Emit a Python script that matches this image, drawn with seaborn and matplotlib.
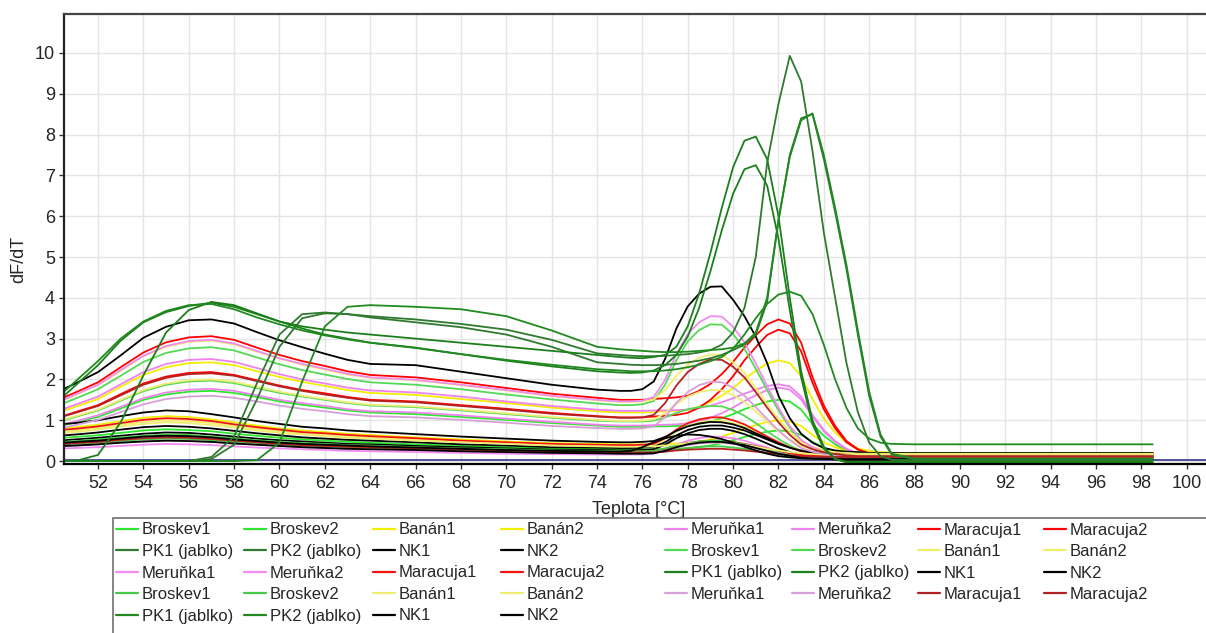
import matplotlib
matplotlib.use("Agg")
import matplotlib.pyplot as plt
from matplotlib.lines import Line2D
from matplotlib.patches import Rectangle
import pandas as pd
import seaborn as sns

# Temperature grid (°C) shared by all melt-curve derivative traces
temps = [50.5, 51, 52, 53, 54, 55, 56, 57, 58, 59, 60, 61, 62, 63, 64, 66, 68, 70, 72, 74,
         75, 75.5, 76, 76.5, 77, 77.5, 78, 78.5, 79, 79.5, 80, 80.5, 81, 81.5, 82, 82.5,
         83, 83.5, 84, 84.5, 85, 85.5, 86, 86.5, 87, 88, 98.5]

samples = ["Broskev1", "Broskev2", "Banán1", "Banán2", "Meruňka1", "Meruňka2",
           "Maracuja1", "Maracuja2", "PK1 (jablko)", "PK2 (jablko)", "NK1", "NK2"]

# ---- run 1 -------------------------------------------------------------
r1_broskev1 = [0.88, 0.95, 1.08, 1.29, 1.50, 1.63, 1.70, 1.72, 1.67, 1.57, 1.46, 1.38, 1.31, 1.24, 1.19, 1.15, 1.08, 1.01, 0.93, 0.87,
               0.84, 0.84, 0.84, 0.85, 0.85, 0.86, 0.87, 0.91, 0.97, 1.05, 1.15, 1.27, 1.37, 1.46, 1.50, 1.46, 1.26, 0.91, 0.62, 0.41, 0.25, 0.17, 0.13, 0.11, 0.10, 0.10, 0.10]
r1_broskev2 = [0.57, 0.59, 0.63, 0.69, 0.75, 0.78, 0.76, 0.73, 0.67, 0.62, 0.57, 0.53, 0.50, 0.47, 0.45, 0.41, 0.37, 0.34, 0.31, 0.30,
               0.29, 0.29, 0.29, 0.29, 0.30, 0.30, 0.31, 0.34, 0.38, 0.44, 0.51, 0.59, 0.66, 0.72, 0.75, 0.73, 0.64, 0.47, 0.33, 0.23, 0.15, 0.11, 0.09, 0.09, 0.08, 0.08, 0.08]
r1_banan1 = [1.23, 1.33, 1.52, 1.82, 2.11, 2.30, 2.40, 2.42, 2.35, 2.20, 2.06, 1.94, 1.84, 1.74, 1.67, 1.62, 1.52, 1.42, 1.31, 1.22,
             1.19, 1.19, 1.19, 1.20, 1.22, 1.23, 1.25, 1.33, 1.45, 1.60, 1.79, 2.02, 2.21, 2.39, 2.47, 2.40, 2.08, 1.52, 1.04, 0.70, 0.45, 0.31, 0.25, 0.22, 0.20, 0.20, 0.20]
r1_banan2 = [0.80, 0.83, 0.89, 0.98, 1.06, 1.10, 1.08, 1.02, 0.95, 0.87, 0.80, 0.75, 0.71, 0.67, 0.64, 0.58, 0.53, 0.48, 0.44, 0.42,
             0.41, 0.41, 0.41, 0.42, 0.42, 0.43, 0.44, 0.47, 0.53, 0.60, 0.69, 0.79, 0.88, 0.96, 1.00, 0.97, 0.86, 0.64, 0.46, 0.34, 0.24, 0.19, 0.17, 0.16, 0.15, 0.15, 0.15]
r1_merunka1 = [1.28, 1.38, 1.58, 1.88, 2.18, 2.38, 2.48, 2.50, 2.43, 2.28, 2.13, 2.00, 1.90, 1.80, 1.73, 1.68, 1.58, 1.46, 1.35, 1.26,
               1.23, 1.23, 1.23, 1.24, 1.24, 1.25, 1.26, 1.30, 1.36, 1.44, 1.54, 1.65, 1.75, 1.84, 1.88, 1.83, 1.58, 1.13, 0.76, 0.49, 0.30, 0.19, 0.14, 0.12, 0.10, 0.10, 0.10]
r1_merunka2 = [0.90, 0.97, 1.12, 1.33, 1.54, 1.68, 1.75, 1.77, 1.72, 1.61, 1.50, 1.42, 1.35, 1.27, 1.22, 1.19, 1.12, 1.04, 0.96, 0.89,
               0.87, 0.87, 0.87, 0.88, 0.89, 0.90, 0.92, 0.97, 1.06, 1.17, 1.31, 1.47, 1.61, 1.74, 1.80, 1.75, 1.51, 1.09, 0.73, 0.47, 0.29, 0.19, 0.13, 0.12, 0.10, 0.10, 0.10]
r1_maracuja1 = [1.56, 1.68, 1.93, 2.30, 2.66, 2.91, 3.03, 3.06, 2.97, 2.78, 2.60, 2.45, 2.33, 2.20, 2.11, 2.05, 1.93, 1.79, 1.65, 1.55,
                1.50, 1.50, 1.50, 1.52, 1.54, 1.56, 1.60, 1.72, 1.89, 2.13, 2.43, 2.78, 3.08, 3.35, 3.47, 3.37, 2.90, 2.06, 1.36, 0.86, 0.49, 0.29, 0.19, 0.15, 0.12, 0.12, 0.12]
r1_maracuja2 = [1.11, 1.20, 1.37, 1.64, 1.90, 2.07, 2.16, 2.18, 2.11, 1.98, 1.85, 1.74, 1.66, 1.57, 1.50, 1.46, 1.37, 1.28, 1.18, 1.10,
                1.07, 1.07, 1.07, 1.09, 1.11, 1.13, 1.18, 1.31, 1.50, 1.76, 2.08, 2.47, 2.79, 3.09, 3.22, 3.13, 2.69, 1.92, 1.27, 0.80, 0.46, 0.28, 0.18, 0.15, 0.12, 0.12, 0.12]
r1_pk1 = [0.0, 0.0, 0.0, 0.0, 0.0, 0.0, 0.0, 0.1, 0.6, 1.9, 3.1, 3.6, 3.64, 3.6, 3.55, 3.47, 3.36, 3.22, 2.97, 2.64,
          2.60, 2.58, 2.57, 2.57, 2.58, 2.60, 2.62, 2.66, 2.72, 2.85, 3.15, 3.75, 5.0, 7.3, 8.75, 9.93, 9.3, 7.6, 5.6, 4.0, 2.4, 1.2, 0.45, 0.12, 0.03, 0.02, 0.02]
r1_pk2 = [0.0, 0.0, 0.0, 0.0, 0.0, 0.0, 0.0, 0.05, 0.4, 1.5, 2.8, 3.5, 3.62, 3.6, 3.52, 3.4, 3.28, 3.1, 2.8, 2.42,
          2.38, 2.36, 2.35, 2.35, 2.36, 2.38, 2.42, 2.46, 2.52, 2.60, 2.72, 2.85, 3.1, 3.9, 5.9, 7.5, 8.4, 8.5, 7.4, 6.1, 4.7, 3.1, 1.6, 0.6, 0.15, 0.05, 0.05]
r1_nk1 = [0.63, 0.65, 0.70, 0.77, 0.83, 0.86, 0.84, 0.80, 0.74, 0.68, 0.63, 0.58, 0.55, 0.52, 0.50, 0.46, 0.41, 0.38, 0.34, 0.33,
          0.32, 0.32, 0.33, 0.35, 0.46, 0.63, 0.76, 0.84, 0.87, 0.87, 0.82, 0.75, 0.64, 0.53, 0.42, 0.33, 0.26, 0.22, 0.20, 0.18, 0.18, 0.17, 0.17, 0.17, 0.17, 0.17, 0.17]
r1_nk2 = [0.51, 0.53, 0.57, 0.62, 0.67, 0.70, 0.69, 0.65, 0.60, 0.55, 0.51, 0.48, 0.45, 0.42, 0.41, 0.37, 0.34, 0.31, 0.28, 0.27,
          0.26, 0.26, 0.27, 0.29, 0.40, 0.56, 0.68, 0.76, 0.79, 0.79, 0.74, 0.66, 0.55, 0.43, 0.31, 0.22, 0.14, 0.10, 0.08, 0.07, 0.06, 0.05, 0.05, 0.05, 0.05, 0.05, 0.05]

# ---- run 2 -------------------------------------------------------------
r2_broskev1 = [1.42, 1.53, 1.76, 2.09, 2.43, 2.65, 2.76, 2.79, 2.71, 2.54, 2.37, 2.23, 2.12, 2.01, 1.93, 1.87, 1.76, 1.63, 1.51, 1.41,
               1.37, 1.37, 1.39, 1.47, 1.87, 2.47, 2.93, 3.21, 3.35, 3.34, 3.11, 2.75, 2.26, 1.74, 1.24, 0.82, 0.49, 0.33, 0.23, 0.17, 0.13, 0.10, 0.10, 0.10, 0.10, 0.10, 0.10]
r2_broskev2 = [1.00, 1.08, 1.24, 1.48, 1.71, 1.87, 1.95, 1.97, 1.91, 1.79, 1.67, 1.58, 1.50, 1.42, 1.36, 1.32, 1.24, 1.15, 1.06, 0.99,
               0.97, 0.97, 0.97, 0.99, 1.07, 1.18, 1.27, 1.32, 1.35, 1.34, 1.25, 1.11, 0.93, 0.73, 0.54, 0.38, 0.25, 0.19, 0.15, 0.13, 0.11, 0.10, 0.10, 0.10, 0.10, 0.10, 0.10]
r2_banan1 = [1.50, 1.62, 1.86, 2.21, 2.57, 2.80, 2.92, 2.95, 2.86, 2.68, 2.51, 2.36, 2.24, 2.12, 2.04, 1.98, 1.86, 1.73, 1.59, 1.49,
             1.45, 1.45, 1.46, 1.51, 1.74, 2.09, 2.36, 2.53, 2.61, 2.60, 2.42, 2.16, 1.79, 1.40, 1.03, 0.72, 0.47, 0.35, 0.28, 0.23, 0.20, 0.18, 0.18, 0.18, 0.18, 0.18, 0.18]
r2_banan2 = [0.73, 0.75, 0.81, 0.89, 0.96, 1.00, 0.98, 0.93, 0.86, 0.79, 0.73, 0.68, 0.65, 0.61, 0.58, 0.53, 0.48, 0.44, 0.40, 0.38,
             0.37, 0.37, 0.38, 0.40, 0.53, 0.72, 0.86, 0.95, 0.99, 0.99, 0.93, 0.84, 0.71, 0.58, 0.45, 0.34, 0.25, 0.21, 0.18, 0.17, 0.16, 0.15, 0.15, 0.15, 0.15, 0.15, 0.15]
r2_merunka1 = [1.51, 1.63, 1.87, 2.23, 2.58, 2.82, 2.94, 2.97, 2.88, 2.70, 2.52, 2.38, 2.26, 2.14, 2.05, 1.99, 1.87, 1.74, 1.60, 1.50,
               1.46, 1.46, 1.48, 1.57, 1.99, 2.62, 3.11, 3.40, 3.55, 3.54, 3.29, 2.91, 2.39, 1.84, 1.31, 0.86, 0.52, 0.34, 0.24, 0.17, 0.13, 0.10, 0.10, 0.10, 0.10, 0.10, 0.10]
r2_merunka2 = [0.31, 0.32, 0.34, 0.37, 0.40, 0.42, 0.41, 0.39, 0.36, 0.33, 0.31, 0.29, 0.27, 0.25, 0.24, 0.22, 0.20, 0.18, 0.17, 0.16,
               0.16, 0.16, 0.16, 0.18, 0.27, 0.40, 0.50, 0.56, 0.60, 0.59, 0.56, 0.50, 0.41, 0.33, 0.24, 0.17, 0.12, 0.09, 0.07, 0.06, 0.06, 0.05, 0.05, 0.05, 0.05, 0.05, 0.05]
r2_maracuja1 = [0.77, 0.79, 0.85, 0.93, 1.01, 1.05, 1.03, 0.98, 0.90, 0.83, 0.77, 0.71, 0.68, 0.64, 0.61, 0.56, 0.50, 0.46, 0.42, 0.40,
                0.39, 0.39, 0.40, 0.42, 0.56, 0.77, 0.93, 1.02, 1.07, 1.07, 1.00, 0.90, 0.75, 0.60, 0.46, 0.33, 0.24, 0.19, 0.16, 0.14, 0.13, 0.12, 0.12, 0.12, 0.12, 0.12, 0.12]
r2_maracuja2 = [0.45, 0.47, 0.50, 0.55, 0.60, 0.62, 0.61, 0.58, 0.53, 0.49, 0.45, 0.42, 0.40, 0.38, 0.36, 0.33, 0.30, 0.27, 0.25, 0.24,
                0.23, 0.23, 0.23, 0.24, 0.30, 0.38, 0.44, 0.48, 0.50, 0.50, 0.47, 0.42, 0.36, 0.30, 0.24, 0.19, 0.15, 0.13, 0.12, 0.11, 0.10, 0.10, 0.10, 0.10, 0.10, 0.10, 0.10]
r2_pk1 = [1.6, 1.85, 2.35, 2.95, 3.4, 3.65, 3.8, 3.88, 3.78, 3.6, 3.42, 3.3, 3.22, 3.15, 3.1, 3.0, 2.9, 2.8, 2.7, 2.6,
          2.55, 2.53, 2.52, 2.55, 2.6, 2.8, 3.3, 4.1, 5.1, 6.2, 7.2, 7.85, 7.95, 7.4, 6.0, 4.0, 2.2, 1.0, 0.35, 0.05, -0.03, -0.04, -0.04, -0.04, -0.04, -0.04, -0.04]
r2_pk2 = [0.0, 0.0, 0.15, 0.95, 2.1, 3.15, 3.7, 3.9, 3.82, 3.62, 3.42, 3.25, 3.1, 3.0, 2.9, 2.78, 2.62, 2.46, 2.32, 2.2,
          2.17, 2.16, 2.17, 2.22, 2.35, 2.6, 3.05, 3.75, 4.65, 5.65, 6.55, 7.15, 7.25, 6.75, 5.45, 3.7, 2.05, 0.9, 0.3, 0.05, -0.02, -0.02, -0.02, -0.02, -0.02, -0.02, -0.02]
r2_nk1 = [1.77, 1.90, 2.18, 2.59, 3.02, 3.29, 3.45, 3.47, 3.37, 3.16, 2.96, 2.79, 2.63, 2.48, 2.38, 2.35, 2.19, 2.03, 1.87, 1.75,
          1.72, 1.72, 1.76, 1.95, 2.5, 3.25, 3.79, 4.1, 4.27, 4.28, 3.95, 3.55, 3.05, 2.4, 1.6, 1.05, 0.67, 0.45, 0.32, 0.26, 0.23, 0.22, 0.20, 0.20, 0.20, 0.20, 0.20]
r2_nk2 = [0.91, 0.93, 1.00, 1.10, 1.19, 1.24, 1.22, 1.15, 1.07, 0.98, 0.91, 0.84, 0.80, 0.75, 0.72, 0.66, 0.60, 0.55, 0.50, 0.47,
          0.46, 0.46, 0.47, 0.49, 0.59, 0.74, 0.85, 0.92, 0.96, 0.95, 0.90, 0.81, 0.68, 0.56, 0.43, 0.33, 0.25, 0.21, 0.18, 0.17, 0.16, 0.15, 0.15, 0.15, 0.15, 0.15, 0.15]

# ---- run 3 -------------------------------------------------------------
r3_broskev1 = [0.47, 0.49, 0.53, 0.58, 0.62, 0.65, 0.64, 0.60, 0.56, 0.51, 0.47, 0.44, 0.42, 0.39, 0.38, 0.34, 0.31, 0.29, 0.26, 0.25,
               0.24, 0.24, 0.24, 0.25, 0.31, 0.38, 0.44, 0.48, 0.50, 0.50, 0.46, 0.41, 0.35, 0.28, 0.21, 0.15, 0.10, 0.08, 0.07, 0.06, 0.05, 0.05, 0.05, 0.05, 0.05, 0.05, 0.05]
r3_broskev2 = [0.40, 0.41, 0.45, 0.49, 0.53, 0.55, 0.54, 0.51, 0.47, 0.43, 0.40, 0.37, 0.35, 0.33, 0.32, 0.29, 0.26, 0.24, 0.22, 0.21,
               0.20, 0.20, 0.20, 0.21, 0.24, 0.29, 0.32, 0.35, 0.36, 0.36, 0.33, 0.30, 0.25, 0.20, 0.15, 0.11, 0.08, 0.06, 0.05, 0.05, 0.04, 0.04, 0.04, 0.04, 0.04, 0.04, 0.04]
r3_banan1 = [1.02, 1.10, 1.26, 1.50, 1.74, 1.90, 1.98, 2.00, 1.94, 1.82, 1.70, 1.60, 1.52, 1.44, 1.38, 1.34, 1.26, 1.17, 1.08, 1.01,
             0.98, 0.98, 0.99, 1.02, 1.17, 1.40, 1.58, 1.69, 1.74, 1.73, 1.62, 1.45, 1.22, 0.97, 0.73, 0.53, 0.37, 0.29, 0.24, 0.21, 0.20, 0.18, 0.18, 0.18, 0.18, 0.18, 0.18]
r3_banan2 = [0.69, 0.71, 0.77, 0.85, 0.91, 0.95, 0.93, 0.88, 0.82, 0.75, 0.69, 0.65, 0.61, 0.57, 0.55, 0.50, 0.46, 0.42, 0.38, 0.36,
             0.35, 0.35, 0.35, 0.36, 0.38, 0.41, 0.43, 0.44, 0.45, 0.45, 0.43, 0.39, 0.35, 0.30, 0.26, 0.22, 0.19, 0.17, 0.16, 0.15, 0.15, 0.15, 0.15, 0.15, 0.15, 0.15, 0.15]
r3_merunka1 = [0.82, 0.88, 1.01, 1.20, 1.39, 1.52, 1.58, 1.60, 1.55, 1.46, 1.36, 1.28, 1.22, 1.15, 1.10, 1.07, 1.01, 0.94, 0.86, 0.81,
               0.79, 0.79, 0.80, 0.85, 1.08, 1.43, 1.69, 1.86, 1.94, 1.93, 1.80, 1.60, 1.32, 1.03, 0.75, 0.51, 0.32, 0.23, 0.17, 0.14, 0.12, 0.10, 0.10, 0.10, 0.10, 0.10, 0.10]
r3_merunka2 = [0.37, 0.38, 0.41, 0.45, 0.48, 0.50, 0.49, 0.47, 0.43, 0.40, 0.37, 0.34, 0.32, 0.30, 0.29, 0.27, 0.24, 0.22, 0.20, 0.19,
               0.18, 0.18, 0.18, 0.19, 0.25, 0.33, 0.39, 0.43, 0.45, 0.45, 0.42, 0.37, 0.31, 0.25, 0.19, 0.14, 0.10, 0.08, 0.07, 0.06, 0.05, 0.05, 0.05, 0.05, 0.05, 0.05, 0.05]
r3_maracuja1 = [1.10, 1.18, 1.35, 1.61, 1.87, 2.04, 2.13, 2.15, 2.09, 1.96, 1.83, 1.72, 1.63, 1.55, 1.48, 1.44, 1.35, 1.26, 1.16, 1.09,
                1.06, 1.06, 1.07, 1.13, 1.42, 1.85, 2.18, 2.38, 2.49, 2.48, 2.31, 2.05, 1.69, 1.31, 0.95, 0.64, 0.41, 0.29, 0.22, 0.17, 0.14, 0.12, 0.12, 0.12, 0.12, 0.12, 0.12]
r3_maracuja2 = [0.42, 0.44, 0.47, 0.52, 0.56, 0.58, 0.57, 0.54, 0.50, 0.46, 0.42, 0.39, 0.37, 0.35, 0.34, 0.31, 0.28, 0.26, 0.23, 0.22,
                0.21, 0.21, 0.21, 0.21, 0.23, 0.26, 0.28, 0.29, 0.30, 0.30, 0.28, 0.26, 0.23, 0.20, 0.17, 0.14, 0.12, 0.11, 0.10, 0.10, 0.10, 0.10, 0.10, 0.10, 0.10, 0.10, 0.10]
r3_pk1 = [0.0, 0.0, 0.0, 0.0, 0.0, 0.0, 0.0, 0.0, 0.0, 0.02, 0.45, 1.95, 3.3, 3.78, 3.82, 3.78, 3.72, 3.55, 3.2, 2.8,
          2.74, 2.72, 2.70, 2.68, 2.67, 2.67, 2.68, 2.70, 2.72, 2.74, 2.78, 2.88, 3.15, 4.0, 5.9, 7.45, 8.35, 8.52, 7.5, 6.2, 4.8, 3.2, 1.7, 0.65, 0.18, 0.06, 0.06]
r3_pk2 = [1.70, 1.95, 2.45, 3.00, 3.42, 3.68, 3.82, 3.85, 3.72, 3.52, 3.35, 3.20, 3.08, 2.98, 2.90, 2.77, 2.62, 2.48, 2.36, 2.25,
          2.22, 2.20, 2.20, 2.20, 2.22, 2.25, 2.30, 2.36, 2.45, 2.55, 2.75, 3.10, 3.50, 3.85, 4.08, 4.15, 4.05, 3.60, 2.85, 2.00, 1.30, 0.80, 0.55, 0.45, 0.42, 0.41, 0.41]
r3_nk1 = [0.45, 0.47, 0.50, 0.55, 0.60, 0.62, 0.61, 0.58, 0.53, 0.49, 0.45, 0.42, 0.40, 0.38, 0.36, 0.33, 0.30, 0.27, 0.25, 0.24,
          0.23, 0.25, 0.34, 0.46, 0.56, 0.62, 0.65, 0.64, 0.60, 0.54, 0.45, 0.35, 0.26, 0.18, 0.12, 0.09, 0.07, 0.06, 0.06, 0.05, 0.05, 0.05, 0.05, 0.05, 0.05, 0.05, 0.05]
r3_nk2 = [0.37, 0.38, 0.41, 0.45, 0.48, 0.50, 0.49, 0.47, 0.43, 0.40, 0.37, 0.34, 0.32, 0.30, 0.29, 0.27, 0.24, 0.22, 0.20, 0.19,
          0.18, 0.18, 0.18, 0.19, 0.25, 0.34, 0.41, 0.45, 0.47, 0.47, 0.43, 0.39, 0.32, 0.25, 0.18, 0.13, 0.08, 0.06, 0.05, 0.04, 0.03, 0.03, 0.03, 0.03, 0.03, 0.03, 0.03]

# Baseline trace level
baseline_level = 0.03

run1 = [r1_broskev1, r1_broskev2, r1_banan1, r1_banan2, r1_merunka1, r1_merunka2,
        r1_maracuja1, r1_maracuja2, r1_pk1, r1_pk2, r1_nk1, r1_nk2]
run2 = [r2_broskev1, r2_broskev2, r2_banan1, r2_banan2, r2_merunka1, r2_merunka2,
        r2_maracuja1, r2_maracuja2, r2_pk1, r2_pk2, r2_nk1, r2_nk2]
run3 = [r3_broskev1, r3_broskev2, r3_banan1, r3_banan2, r3_merunka1, r3_merunka2,
        r3_maracuja1, r3_maracuja2, r3_pk1, r3_pk2, r3_nk1, r3_nk2]

run1_colors = ["#2ee62e", "#2ee62e", "#f2ee00", "#f2ee00", "#ee82ee", "#ee82ee",
               "#ff0000", "#ff0000", "#2f7a2f", "#2f7a2f", "#000000", "#000000"]
run2_colors = ["#55d855", "#55d855", "#f2ee6a", "#f2ee6a", "#f08cf0", "#f08cf0",
               "#f01414", "#f01414", "#1c7f1c", "#1c7f1c", "#000000", "#000000"]
run3_colors = ["#48c848", "#48c848", "#eeec74", "#eeec74", "#d8a0d8", "#d8a0d8",
               "#b22222", "#b22222", "#208a20", "#208a20", "#000000", "#000000"]

# ---- long-form table ---------------------------------------------------
rows = []
palette = {}
legend_entries = []
for run_name, curves, colors in (("run1", run1, run1_colors),
                                 ("run2", run2, run2_colors),
                                 ("run3", run3, run3_colors)):
    for name, values, color in zip(samples, curves, colors):
        key = f"{run_name}|{name}"
        palette[key] = color
        legend_entries.append((name, color))
        for t, v in zip(temps, values):
            rows.append({"trace": key, "teplota": t, "dFdT": v})
df = pd.DataFrame(rows)

# draw the controls last so the tall dark-green peaks sit on top
keys = list(palette.keys())
draw_order = [k for k in keys if "PK" not in k] + [k for k in keys if "PK" in k]

sns.set_style("white")
plt.rcParams["font.family"] = ["Liberation Sans", "DejaVu Sans"]

W, H = 1206, 633
fig = plt.figure(figsize=(W / 100, H / 100), dpi=100)
ax = fig.add_axes([64 / W, (H - 463.5) / H, (W - 64) / W, (463.5 - 14) / H])

ax.axhline(baseline_level, color="#33338a", lw=1.2, zorder=1.5)
sns.lineplot(data=df, x="teplota", y="dFdT", hue="trace", hue_order=draw_order,
             palette=palette, estimator=None, sort=False, legend=False,
             linewidth=1.3, ax=ax)

ax.set_xlim(50.5, 100.85)
ax.set_ylim(-0.06, 10.955)
ax.set_xticks(range(52, 101, 2))
ax.set_yticks(range(0, 11))
ax.grid(True, color="#e4e4e4", lw=1.0)
ax.set_axisbelow(True)
ax.tick_params(axis="both", bottom=True, left=True, direction="out", length=3.5,
               width=1, color="#333333", labelsize=13, pad=3)
ax.tick_params(axis="x", pad=5)

ax.spines["right"].set_visible(False)
ax.spines["top"].set_color("#444444")
ax.spines["top"].set_linewidth(1.6)
ax.spines["left"].set_color("#222222")
ax.spines["left"].set_linewidth(1.6)
ax.spines["bottom"].set_color("#000000")
ax.spines["bottom"].set_linewidth(1.6)

ax.set_xlabel("Teplota [°C]", fontsize=13)
ax.set_ylabel("dF/dT", fontsize=13)
ax.xaxis.set_label_coords((639 - 64) / (W - 64), (463.5 - 501) / 449.5)
ax.yaxis.set_label_coords((27 - 64) / (W - 64), (463.5 - 259) / 449.5)

# ---- legend: 8 columns, filled row by row, inside one open-ended frame ---
frame_left, frame_top = 113, 518
fig.patches.append(Rectangle((frame_left / W, -0.1), 1.2, (1 - frame_top / H) + 0.1,
                             transform=fig.transFigure, fill=False,
                             edgecolor="#707070", lw=1.2))
col_x = [116, 244, 373, 501, 665, 792, 918, 1044]
ncols = 8
for c in range(ncols):
    idx = [r * ncols + c for r in range(5) if r * ncols + c < len(legend_entries)]
    handles = [Line2D([], [], color=legend_entries[i][1], lw=1.6) for i in idx]
    labels = [legend_entries[i][0] for i in idx]
    fig.legend(handles, labels, loc="upper left",
               bbox_to_anchor=(col_x[c] / W, 1 - 522.5 / H),
               bbox_transform=fig.transFigure, frameon=False,
               borderpad=0, borderaxespad=0, handlelength=1.3,
               handletextpad=0.25, labelspacing=0.39, fontsize=12)

fig.savefig("out.png", dpi=100)
